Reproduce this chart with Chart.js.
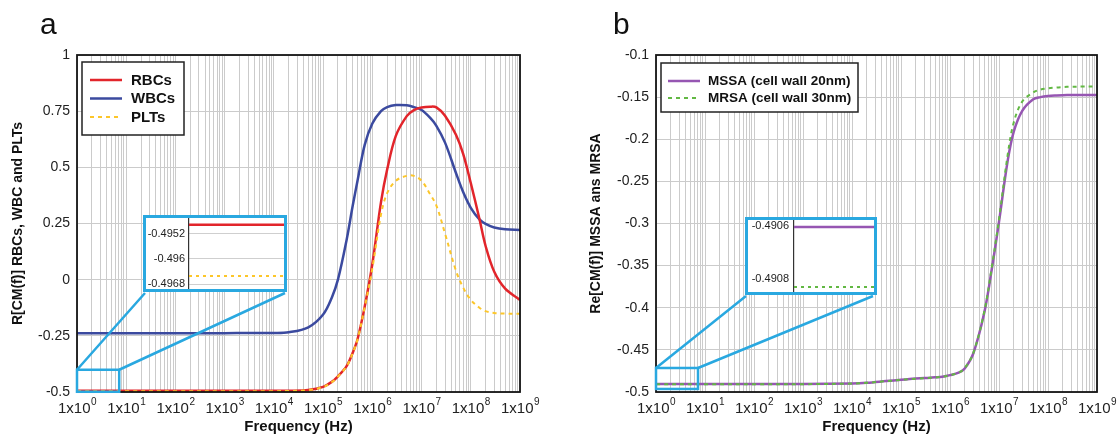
<!DOCTYPE html>
<html lang="en">
<head>
<meta charset="UTF-8">
<title>Re[CM(f)] vs frequency</title>
<script src="https://cdn.jsdelivr.net/npm/chart.js"></script>
<style>
  body { margin: 0; background: #fff; }
  #wrap { position: relative; width: 1118px; height: 434px; overflow: hidden; background: #fff; }
  #chartA, #chartB { position: absolute; top: 0; }
  #chartA { left: 0; }
  #chartB { left: 560px; }
  .insetBox { position: absolute; border: 3px solid #29a8e0; background: #fff; line-height: 0; }
  #boxA { left: 143px; top: 215px; }
  #boxB { left: 745px; top: 217px; }
</style>
</head>
<body>
<div id="wrap">
  <canvas id="chartA" width="550" height="434"></canvas>
  <canvas id="chartB" width="558" height="434"></canvas>
  <div class="insetBox" id="boxA"><canvas id="insetA" width="138" height="71"></canvas></div>
  <div class="insetBox" id="boxB"><canvas id="insetB" width="126" height="72"></canvas></div>
</div>

<script>
// frequencies (Hz) shared by both panels
const freq = [1, 10, 100, 1e3, 1e4, 2e4, 5e4, 1e5, 1.5e5, 2e5, 3e5, 4e5, 5e5, 7e5,
              1e6, 1.5e6, 2e6, 3e6, 5e6, 7e6, 1e7, 1.5e7, 2e7, 3e7, 5e7, 7e7,
              1e8, 1.5e8, 2e8, 3e8, 5e8, 1e9];

// panel a
const rbc = [-0.4949, -0.4949, -0.4949, -0.4949, -0.4948, -0.4945, -0.491, -0.477, -0.455, -0.43, -0.385, -0.325, -0.265, -0.12,
             0.07, 0.345, 0.49, 0.64, 0.728, 0.755, 0.766, 0.77, 0.767, 0.73, 0.645, 0.56,
             0.43, 0.27, 0.15, 0.035, -0.04, -0.09];
const wbc = [-0.238, -0.238, -0.238, -0.238, -0.237, -0.234, -0.212, -0.155, -0.08, 0.0, 0.177, 0.33, 0.44, 0.60,
             0.695, 0.75, 0.768, 0.777, 0.776, 0.768, 0.755, 0.72, 0.685, 0.61, 0.475, 0.39,
             0.32, 0.268, 0.248, 0.232, 0.224, 0.221];
const plt = [-0.49654, -0.49654, -0.49654, -0.49654, -0.4962, -0.4955, -0.492, -0.478, -0.456, -0.431, -0.386, -0.326, -0.266, -0.122,
             0.05, 0.29, 0.385, 0.44, 0.462, 0.462, 0.44, 0.38, 0.33, 0.205, 0.04, -0.035,
             -0.09, -0.125, -0.14, -0.148, -0.151, -0.152];

// panel b
const mssa = [-0.4906, -0.4906, -0.4906, -0.4905, -0.4898, -0.489, -0.487, -0.4855, -0.4846, -0.4841, -0.4835, -0.483, -0.4826, -0.4818,
              -0.48, -0.477, -0.472, -0.454, -0.406, -0.357, -0.298, -0.226, -0.191, -0.166, -0.1525, -0.15,
              -0.1487, -0.148, -0.1477, -0.1475, -0.1474, -0.1474];
const mrsa = [-0.49083, -0.49083, -0.49083, -0.4907, -0.49, -0.4891, -0.4871, -0.4856, -0.4847, -0.4842, -0.4836, -0.4831, -0.4827, -0.4819,
              -0.4801, -0.4771, -0.4718, -0.4535, -0.405, -0.355, -0.295, -0.219, -0.18, -0.155, -0.1445, -0.141,
              -0.1395, -0.1385, -0.138, -0.1377, -0.1375, -0.1375];

// zoomed insets
const insetFreq = [1, 7];
const insetRbc = [-0.4949, -0.4949];
const insetPlt = [-0.49654, -0.49654];
const insetMssa = [-0.490603, -0.490603];
const insetMrsa = [-0.49083, -0.49083];

// ticks
const xDecades = [1, 1e1, 1e2, 1e3, 1e4, 1e5, 1e6, 1e7, 1e8, 1e9];
const xExponents = ['0', '1', '2', '3', '4', '5', '6', '7', '8', '9'];
const yTicksA = [-0.5, -0.25, 0, 0.25, 0.5, 0.75, 1];
const yTicksB = [-0.5, -0.45, -0.4, -0.35, -0.3, -0.25, -0.2, -0.15, -0.1];
const insetTicksA = [-0.4968, -0.496, -0.4952];
const insetTicksB = [-0.4908, -0.4906];

const FONT = '"Liberation Sans", Arial, sans-serif';
const ZOOM_BLUE = '#29a8e0';

function pts(xs, ys) {
  return xs.map((x, i) => ({ x: x, y: ys[i] }));
}

function logGridTicks() {
  const t = [];
  for (let i = 0; i < xDecades.length - 1; i++) {
    for (let k = 1; k <= 9; k++) t.push({ value: xDecades[i] * k });
  }
  t.push({ value: xDecades[xDecades.length - 1] });
  return t;
}

const panelDecor = {
  id: 'panelDecor',
  afterDraw(chart, args, o) {
    const ctx = chart.ctx, a = chart.chartArea;
    const xs = chart.scales.x, ys = chart.scales.y;
    ctx.save();

    // frame
    ctx.strokeStyle = '#151515';
    ctx.lineWidth = 1.8;
    ctx.strokeRect(a.left, a.top, a.right - a.left, a.bottom - a.top);

    // decade labels 1x10^n
    ctx.fillStyle = '#222';
    ctx.textAlign = 'left';
    ctx.textBaseline = 'alphabetic';
    xDecades.forEach((d, i) => {
      const px = xs.getPixelForValue(d);
      ctx.font = '15px ' + FONT;
      const w1 = ctx.measureText('1x10').width;
      ctx.font = '10px ' + FONT;
      const w2 = ctx.measureText(xExponents[i]).width;
      const x0 = px - (w1 + w2) / 2;
      ctx.font = '15px ' + FONT;
      ctx.fillText('1x10', x0, a.bottom + 21);
      ctx.font = '10px ' + FONT;
      ctx.fillText(xExponents[i], x0 + w1 + 0.5, a.bottom + 13);
    });

    // panel letter
    ctx.fillStyle = '#111';
    ctx.font = '30px ' + FONT;
    ctx.fillText(o.letter, o.letterX, 34);

    // legend
    const L = o.legend;
    ctx.fillStyle = '#fff';
    ctx.fillRect(L.x, L.y, L.w, L.h);
    ctx.strokeStyle = '#222';
    ctx.lineWidth = 1.5;
    ctx.strokeRect(L.x, L.y, L.w, L.h);
    chart.data.datasets.forEach((ds, i) => {
      const y = L.rows[i];
      ctx.strokeStyle = ds.borderColor;
      ctx.lineWidth = ds.borderWidth;
      ctx.setLineDash(ds.borderDash || []);
      ctx.beginPath();
      ctx.moveTo(L.lineX0, y);
      ctx.lineTo(L.lineX1, y);
      ctx.stroke();
      ctx.setLineDash([]);
      ctx.fillStyle = '#111';
      ctx.font = 'bold ' + L.font + 'px ' + FONT;
      ctx.textBaseline = 'middle';
      ctx.fillText(ds.label, L.textX, y + 0.5);
    });

    // zoom source rectangle and connectors
    const z = o.zoom;
    const rx0 = xs.getPixelForValue(z.x0), rx1 = xs.getPixelForValue(z.x1);
    const ry0 = ys.getPixelForValue(z.y0), ry1 = ys.getPixelForValue(z.y1);
    ctx.strokeStyle = ZOOM_BLUE;
    ctx.lineWidth = 2.5;
    ctx.strokeRect(rx0, ry1, rx1 - rx0, ry0 - ry1);
    ctx.beginPath();
    ctx.moveTo(rx0, ry1); ctx.lineTo(z.to[0][0], z.to[0][1]);
    ctx.moveTo(rx1, ry1); ctx.lineTo(z.to[1][0], z.to[1][1]);
    ctx.stroke();

    ctx.restore();
  }
};

function mainChart(id, datasets, yTicks, yTitle, cfg) {
  return new Chart(document.getElementById(id), {
    type: 'line',
    data: { datasets: datasets },
    options: {
      responsive: false,
      animation: false,
      events: [],
      layout: { padding: { top: 55, right: cfg.padRight, left: 0, bottom: 0 } },
      elements: { point: { radius: 0 }, line: { tension: 0.35 } },
      scales: {
        x: {
          type: 'logarithmic',
          min: 1,
          max: 1e9,
          afterBuildTicks: s => { s.ticks = logGridTicks(); },
          afterFit: s => { s.height = 42; s.paddingLeft = 0; s.paddingRight = 0; },
          ticks: { display: false },
          grid: { color: '#cbcbcb', lineWidth: 1, drawTicks: false },
          border: { display: false },
          title: {
            display: true,
            text: 'Frequency (Hz)',
            color: '#111',
            font: { family: FONT, size: 15, weight: 'bold', lineHeight: 1 },
            padding: { top: 0, bottom: 0 }
          }
        },
        y: {
          min: yTicks[0],
          max: yTicks[yTicks.length - 1],
          afterBuildTicks: s => { s.ticks = yTicks.map(v => ({ value: v })); },
          afterFit: s => { s.width = cfg.yWidth; s.paddingTop = 0; s.paddingBottom = 0; },
          ticks: {
            color: '#222',
            padding: 7,
            font: { family: FONT, size: 14 },
            callback: v => String(v)
          },
          grid: { color: '#cbcbcb', lineWidth: 1, drawTicks: false },
          border: { display: false },
          title: {
            display: true,
            text: yTitle,
            color: '#111',
            font: { family: FONT, size: 14, weight: 'bold', lineHeight: 1 },
            padding: { top: cfg.titlePad, bottom: 0 }
          }
        }
      },
      plugins: {
        legend: { display: false },
        tooltip: { enabled: false },
        panelDecor: cfg.decor
      }
    },
    plugins: [panelDecor]
  });
}

function insetChart(id, datasets, ticks, min, max, axisW, tickPad, showGrid) {
  return new Chart(document.getElementById(id), {
    type: 'line',
    data: { datasets: datasets },
    options: {
      responsive: false,
      animation: false,
      events: [],
      layout: { padding: 0 },
      elements: { point: { radius: 0 } },
      scales: {
        x: { type: 'logarithmic', min: 1, max: 7, display: false },
        y: {
          min: min,
          max: max,
          afterBuildTicks: s => { s.ticks = ticks.map(v => ({ value: v })); },
          afterFit: s => { s.width = axisW; s.paddingTop = 0; s.paddingBottom = 0; },
          ticks: { color: '#222', padding: tickPad, font: { family: FONT, size: 11 }, callback: v => String(v) },
          grid: { display: showGrid, color: '#cfcfcf', drawTicks: false },
          border: { display: true, color: '#333', width: 1.2 }
        }
      },
      plugins: { legend: { display: false }, tooltip: { enabled: false } }
    }
  });
}

mainChart('chartA', [
  { label: 'RBCs', data: pts(freq, rbc), borderColor: '#e2252b', borderWidth: 2.5, order: 2 },
  { label: 'WBCs', data: pts(freq, wbc), borderColor: '#3b4a9f', borderWidth: 2.5, order: 3 },
  { label: 'PLTs', data: pts(freq, plt), borderColor: '#fcc62a', borderWidth: 2, borderDash: [4, 4], order: 1 }
], yTicksA, 'R[CM(f)] RBCs, WBC and PLTs', {
  padRight: 30, yWidth: 77, titlePad: 11,
  decor: {
    letter: 'a', letterX: 40,
    legend: { x: 82, y: 62, w: 102, h: 73, rows: [80, 98.5, 117], lineX0: 90, lineX1: 122, textX: 131, font: 15 },
    zoom: { x0: 1, x1: 7.2, y0: -0.499, y1: -0.401, to: [[145, 293], [285, 293]] }
  }
});

mainChart('chartB', [
  { label: 'MSSA (cell wall 20nm)', data: pts(freq, mssa), borderColor: '#9656b2', borderWidth: 2.5, order: 2 },
  { label: 'MRSA (cell wall 30nm)', data: pts(freq, mrsa), borderColor: '#62b843', borderWidth: 2, borderDash: [4, 4], order: 1 }
], yTicksB, 'Re[CM(f)] MSSA ans MRSA', {
  padRight: 21, yWidth: 96, titlePad: 29,
  decor: {
    letter: 'b', letterX: 53,
    legend: { x: 101, y: 63, w: 197, h: 49, rows: [81, 98], lineX0: 108, lineX1: 140, textX: 148, font: 13.5 },
    zoom: { x0: 1, x1: 7.2, y0: -0.4964, y1: -0.4715, to: [[186, 296], [313, 296]] }
  }
});

insetChart('insetA', [
  { data: pts(insetFreq, insetRbc), borderColor: '#e2252b', borderWidth: 2.5 },
  { data: pts(insetFreq, insetPlt), borderColor: '#fcc62a', borderWidth: 2, borderDash: [3, 4] }
], insetTicksA, -0.49696, -0.494688, 43, 4, true);

insetChart('insetB', [
  { data: pts(insetFreq, insetMssa), borderColor: '#9656b2', borderWidth: 2.5 },
  { data: pts(insetFreq, insetMrsa), borderColor: '#62b843', borderWidth: 2, borderDash: [3, 4] }
], insetTicksB, -0.490849, -0.490577, 46, 5, false);
</script>
</body>
</html>
